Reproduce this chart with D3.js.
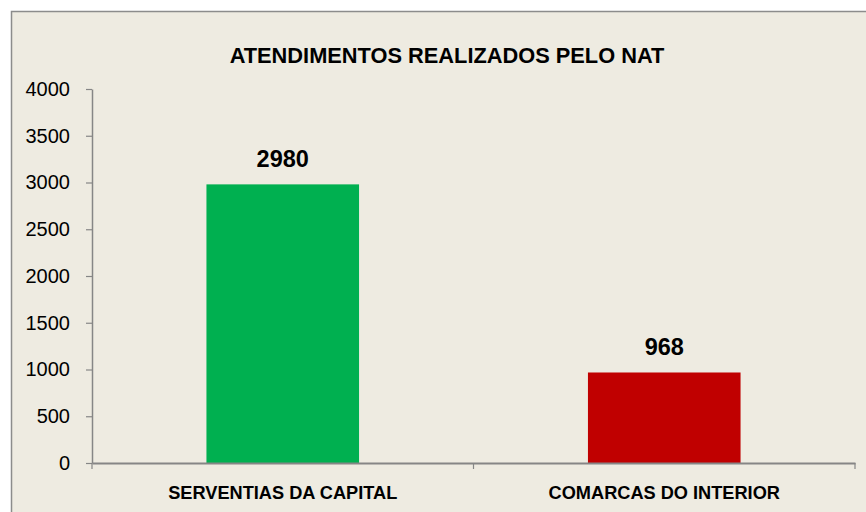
<!DOCTYPE html>
<html>
<head>
<meta charset="utf-8">
<script src="https://cdn.jsdelivr.net/npm/d3@7"></script>
<style>
  body { margin: 0; background: #fff; }
  text { font-family: "Liberation Sans", Arial, sans-serif; }
</style>
</head>
<body>
<div id="chart"></div>
<script>
/* DATA */
const categories = ["SERVENTIAS DA CAPITAL", "COMARCAS DO INTERIOR"];
const values = [2980, 968];
const barColors = ["#00B050", "#C00000"];
const yTicks = [0, 500, 1000, 1500, 2000, 2500, 3000, 3500, 4000];
const title = "ATENDIMENTOS REALIZADOS PELO NAT";

const W = 866, H = 512;
const plot = { left: 92, right: 855, top: 89, bottom: 463 };
const fontFam = '"Liberation Sans", Arial, sans-serif';

const svg = d3.select("#chart").append("svg")
  .attr("width", W).attr("height", H);

// chart area
svg.append("rect")
  .attr("x", 11.5).attr("y", 11.5)
  .attr("width", W + 10).attr("height", H + 10)
  .attr("fill", "#EEEBE1")
  .attr("stroke", "#8C8C8C")
  .attr("stroke-width", 1.5);

// title
svg.append("text")
  .attr("x", 447).attr("y", 63)
  .attr("text-anchor", "middle")
  .attr("font-size", 21.8)
  .attr("font-weight", "bold")
  .attr("fill", "#000")
  .text(title);

// scales
const x = d3.scaleBand()
  .domain(categories)
  .range([plot.left, plot.right]);

const y = d3.scaleLinear()
  .domain([0, 4000])
  .range([plot.bottom, plot.top]);

const barW = x.bandwidth() * 0.4;

// bars
svg.selectAll("rect.bar")
  .data(categories)
  .join("rect")
  .attr("class", "bar")
  .attr("x", d => x(d) + (x.bandwidth() - barW) / 2)
  .attr("y", (d, i) => y(values[i]))
  .attr("width", barW)
  .attr("height", (d, i) => y(0) - y(values[i]))
  .attr("fill", (d, i) => barColors[i]);

// value labels
svg.selectAll("text.val")
  .data(categories)
  .join("text")
  .attr("class", "val")
  .attr("x", d => x(d) + x.bandwidth() / 2)
  .attr("y", (d, i) => y(values[i]) - 17)
  .attr("text-anchor", "middle")
  .attr("font-size", 23.5)
  .attr("font-weight", "bold")
  .attr("fill", "#000")
  .text((d, i) => values[i]);

// y axis
const yAxis = svg.append("g")
  .attr("transform", `translate(${plot.left},0)`)
  .call(d3.axisLeft(y).tickValues(yTicks).tickFormat(d3.format("d"))
    .tickSize(6).tickPadding(16).tickSizeOuter(0));
yAxis.select(".domain").attr("stroke", "#868686").attr("stroke-width", 1.5);
yAxis.selectAll(".tick line").attr("stroke", "#868686").attr("stroke-width", 1.2);
yAxis.selectAll(".tick text")
  .attr("font-size", 20)
  .attr("fill", "#000")
  .style("font-family", fontFam);

// x axis
const xAxis = svg.append("g")
  .attr("transform", `translate(0,${plot.bottom})`)
  .call(d3.axisBottom(x).tickSize(0).tickPadding(23));
xAxis.select(".domain").attr("stroke", "#868686").attr("stroke-width", 2);
xAxis.selectAll(".tick text")
  .attr("font-size", 18.2)
  .attr("font-weight", "bold")
  .attr("fill", "#000")
  .style("font-family", fontFam);

// category separators on x axis
const seps = [plot.left, ...categories.map(d => x(d) + x.bandwidth())];
svg.selectAll("line.sep")
  .data(seps)
  .join("line")
  .attr("class", "sep")
  .attr("x1", d => d).attr("x2", d => d)
  .attr("y1", plot.bottom).attr("y2", plot.bottom + 6)
  .attr("stroke", "#868686")
  .attr("stroke-width", 1.2);
</script>
</body>
</html>
